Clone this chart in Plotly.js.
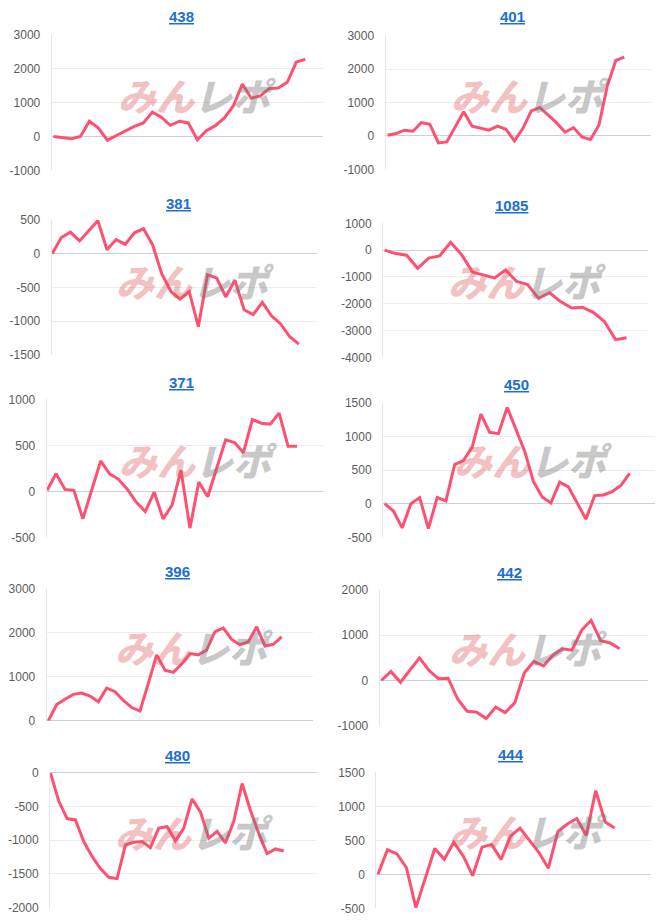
<!DOCTYPE html>
<html><head><meta charset="utf-8">
<script src="https://cdn.plot.ly/plotly-3.0.1.min.js"></script>
<style>html,body{margin:0;padding:0;background:#fff}#chart{width:666px;height:923px}</style>
</head><body><div id="chart"></div>
<script>
// ---- data ----
const titles = ['438','401','381','1085','371','450','396','442','480','444'];

const series438  = [0,-30,-70,0,450,250,-110,30,170,300,400,720,570,330,450,400,-100,170,320,550,900,1550,1130,1200,1420,1430,1600,2200,2280];
const series401  = [20,70,170,140,400,350,-210,-180,270,720,290,220,170,290,200,-150,220,750,850,620,390,110,250,-30,-110,320,1500,2260,2360];
const series381  = [0,240,320,190,340,490,60,210,140,310,370,130,-300,-560,-670,-560,-1080,-310,-360,-640,-390,-830,-900,-720,-920,-1040,-1230,-1340];
const series1085 = [0,-130,-190,-680,-300,-220,290,-170,-820,-920,-1040,-740,-1170,-1290,-1800,-1590,-1920,-2160,-2130,-2330,-2670,-3340,-3270];
const series371  = [10,190,20,10,-300,10,330,190,130,20,-120,-220,-10,-300,-150,230,-400,100,-60,250,560,530,420,780,740,730,850,490,490];
const series450  = [0,-110,-360,0,90,-370,90,40,580,640,840,1330,1060,1040,1430,1110,780,330,100,10,320,250,20,-230,120,130,180,270,450];
const series396  = [0,370,490,600,630,560,430,740,660,460,300,220,850,1500,1150,1100,1290,1530,1500,1610,2030,2110,1850,1730,1800,2140,1700,1740,1910];
const series442  = [0,200,-40,230,500,220,40,50,-410,-680,-700,-840,-590,-710,-490,170,420,320,560,700,670,1110,1330,880,830,700];
const series480  = [0,-420,-680,-700,-1020,-1240,-1420,-1550,-1570,-1070,-1030,-1020,-1110,-820,-800,-1010,-820,-390,-580,-970,-870,-1040,-720,-160,-560,-900,-1200,-1130,-1160];
const series444  = [0,360,300,100,-490,-50,380,220,470,270,-20,400,440,220,560,680,500,320,90,630,740,820,570,1230,770,680];

const seriesList = [series438, series401, series381, series1085, series371, series450, series396, series442, series480, series444];

const ticks438  = [-1000,0,1000,2000,3000];
const ticks401  = [-1000,0,1000,2000,3000];
const ticks381  = [-1500,-1000,-500,0,500];
const ticks1085 = [-4000,-3000,-2000,-1000,0,1000];
const ticks371  = [-500,0,500,1000];
const ticks450  = [-500,0,500,1000,1500];
const ticks396  = [0,1000,2000,3000];
const ticks442  = [-1000,0,1000,2000];
const ticks480  = [-2000,-1500,-1000,-500,0];
const ticks444  = [-500,0,500,1000,1500];
const tickList = [ticks438, ticks401, ticks381, ticks1085, ticks371, ticks450, ticks396, ticks442, ticks480, ticks444];

const watermarkLeft = 'みん';
const watermarkRight = 'レポ';

// ---- layout geometry (px) ----
const W = 666, H = 923;
const boxes = [
  {l:51.7, r:323.3, t:35,    b:170.3, x0:-0.19, x1:30.0,  tx:181.7, ty:16,   wx:197, wy:94},
  {l:385.5,r:651.3, t:35.7,  b:169.3, x0:-0.25, x1:31.2,  tx:512.5, ty:16.5, wx:530, wy:94},
  {l:51.7, r:316.7, t:220,   b:355,   x0:-0.05, x1:28.95, tx:178.7, ty:203,  wx:195, wy:280},
  {l:383,  r:648,   t:223.3, b:357.3, x0:-0.15, x1:23.95, tx:511,   ty:205,  wx:527, wy:280},
  {l:46.7, r:323.3, t:399.3, b:537.3, x0:-0.05, x1:30.95, tx:181,   ty:382,  wx:198, wy:459},
  {l:383,  r:654.7, t:402.7, b:537.3, x0:-0.19, x1:30.86, tx:516,   ty:384.5,wx:533, wy:460},
  {l:46.7, r:313.3, t:589,   b:720.7, x0:-0.2,  x1:31.8,  tx:177,   ty:571.5,wx:194, wy:646},
  {l:379.7,r:648,   t:590,   b:725.7, x0:-0.175,x1:27.97, tx:509,   ty:572.5,wx:528, wy:647},
  {l:50,   r:316.7, t:772.7, b:907.7, x0:-0.05, x1:31.95, tx:177.5, ty:755,  wx:194, wy:831},
  {l:376.3,r:651.3, t:772.3, b:908.3, x0:-0.18, x1:28.87, tx:511,   ty:754,  wx:528, wy:830}
];

const LINE = '#ff5072';
const traces = [];
const layout = {
  width: W, height: H,
  margin: {l:0, r:0, t:0, b:0, pad:0},
  paper_bgcolor: '#ffffff', plot_bgcolor: '#ffffff',
  showlegend: false,
  annotations: [],
  font: {family: '"Liberation Sans", Arial, sans-serif'}
};

seriesList.forEach((s, i) => {
  const n = i + 1;
  const b = boxes[i];
  const xk = n === 1 ? 'xaxis' : 'xaxis' + n;
  const yk = n === 1 ? 'yaxis' : 'yaxis' + n;
  const ticks = tickList[i];
  traces.push({
    type: 'scatter', mode: 'lines',
    x: s.map((_, k) => k), y: s,
    xaxis: 'x' + n, yaxis: 'y' + n,
    line: {color: LINE, width: 3, shape: 'linear'},
    hoverinfo: 'skip'
  });
  layout[xk] = {
    domain: [b.l / W, b.r / W], range: [b.x0, b.x1],
    showgrid: false, zeroline: false, showticklabels: false, showline: false,
    ticks: '', anchor: 'y' + n, fixedrange: true
  };
  layout[yk] = {
    domain: [1 - b.b / H, 1 - b.t / H],
    range: [ticks[0], ticks[ticks.length - 1]],
    tickmode: 'array', tickvals: ticks, ticktext: ticks.map(String),
    showgrid: true, gridcolor: '#ededed', gridwidth: 1,
    zeroline: true, zerolinecolor: '#cfcfcf', zerolinewidth: 1,
    showline: true, linecolor: '#e6e6e6', linewidth: 1,
    ticks: '', ticklabelstandoff: 8,
    tickfont: {family: '"Liberation Sans", Arial, sans-serif', size: 12, color: '#5c5c5c'},
    anchor: 'x' + n, fixedrange: true
  };
  layout.annotations.push({
    xref: 'paper', yref: 'paper', x: b.wx / W, y: 1 - b.wy / H,
    xanchor: 'center', yanchor: 'middle', showarrow: false,
    text: '<span style="color:rgba(222,90,90,0.38)">' + watermarkLeft + '</span><span style="color:rgba(120,120,120,0.42)">' + watermarkRight + '</span>',
    font: {family: '"Noto Sans CJK JP", sans-serif', size: 38, weight: 900, style: 'italic'}
  });
  layout.annotations.push({
    xref: 'paper', yref: 'paper', x: b.tx / W, y: 1 - b.ty / H,
    xanchor: 'center', yanchor: 'middle', showarrow: false,
    text: '<u>' + titles[i] + '</u>',
    font: {family: '"Liberation Sans", Arial, sans-serif', size: 15, weight: 700, color: '#1c6fd1'}
  });
});

Plotly.newPlot('chart', traces, layout, {displayModeBar: false, staticPlot: true});
</script>
</body></html>
